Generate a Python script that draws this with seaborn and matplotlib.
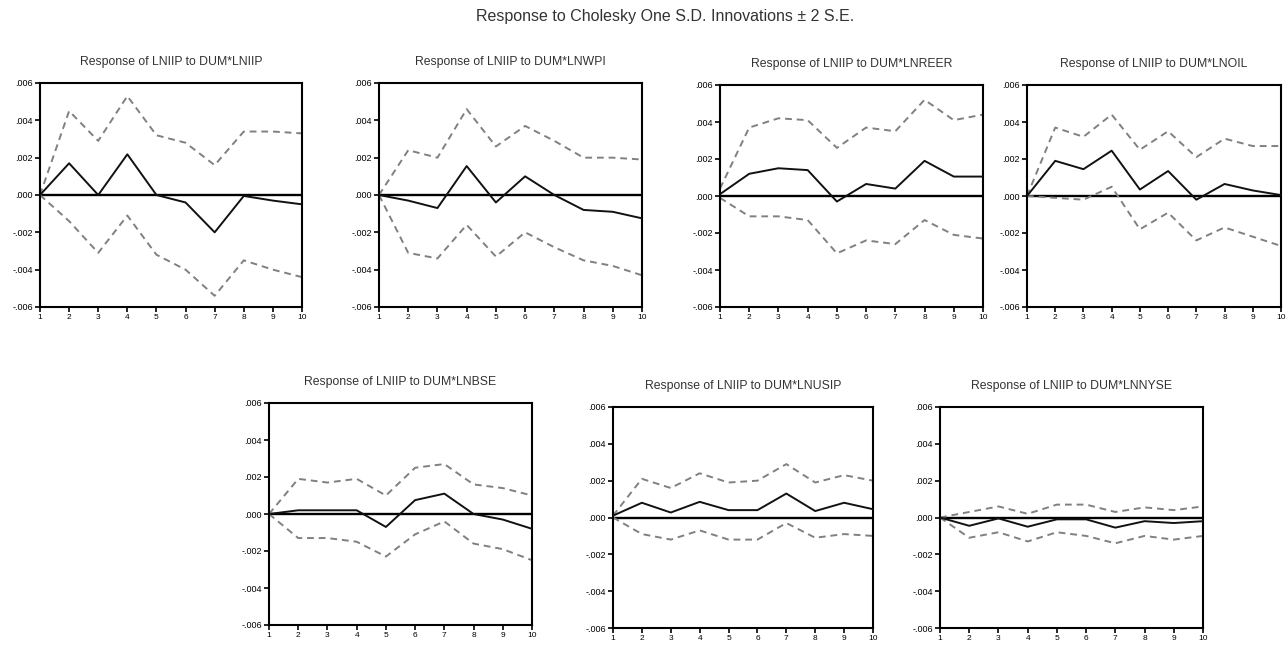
import matplotlib
matplotlib.use("Agg")
import matplotlib.pyplot as plt
from matplotlib.ticker import FuncFormatter
import numpy as np
import pandas as pd
import seaborn as sns

# Impulse-response periods
periods = [1, 2, 3, 4, 5, 6, 7, 8, 9, 10]

# Shock variables (panel order)
shocks = ["DUM*LNIIP", "DUM*LNWPI", "DUM*LNREER", "DUM*LNOIL",
          "DUM*LNBSE", "DUM*LNUSIP", "DUM*LNNYSE"]

# Responses of LNIIP and the +/- 2 S.E. bands for each shock
resp_iip = [0.0, 0.0017, 0.0, 0.00218, 0.0, -0.0004, -0.002, -0.00005, -0.0003, -0.0005]
upper_iip = [0.0, 0.0045, 0.0029, 0.0053, 0.0032, 0.0028, 0.0016, 0.0034, 0.0034, 0.0033]
lower_iip = [0.0, -0.0014, -0.0031, -0.0011, -0.0032, -0.004, -0.0054, -0.0035, -0.004, -0.0044]

resp_wpi = [0.0, -0.0003, -0.0007, 0.00155, -0.0004, 0.001, 0.0, -0.0008, -0.0009, -0.00125]
upper_wpi = [0.0, 0.0024, 0.002, 0.0046, 0.0026, 0.0037, 0.0029, 0.002, 0.002, 0.0019]
lower_wpi = [0.0, -0.0031, -0.0034, -0.0016, -0.0033, -0.002, -0.0028, -0.0035, -0.0038, -0.0043]

resp_reer = [0.0001, 0.0012, 0.0015, 0.0014, -0.0003, 0.00065, 0.0004, 0.0019, 0.00105, 0.00105]
upper_reer = [0.0004, 0.0037, 0.0042, 0.0041, 0.0026, 0.0037, 0.0035, 0.0052, 0.0041, 0.0044]
lower_reer = [-0.0001, -0.0011, -0.0011, -0.0013, -0.0031, -0.0024, -0.0026, -0.0013, -0.0021, -0.0023]

resp_oil = [0.0, 0.0019, 0.00145, 0.00245, 0.00035, 0.00135, -0.0002, 0.00065, 0.0003, 0.00005]
upper_oil = [0.0, 0.0037, 0.0032, 0.0044, 0.0025, 0.0035, 0.0021, 0.0031, 0.0027, 0.0027]
lower_oil = [0.0, -0.0001, -0.0002, 0.0005, -0.0018, -0.0009, -0.0024, -0.0017, -0.0022, -0.0027]

resp_bse = [0.0, 0.0002, 0.0002, 0.0002, -0.0007, 0.00075, 0.0011, 0.0, -0.0003, -0.0008]
upper_bse = [0.0, 0.0019, 0.0017, 0.0019, 0.001, 0.0025, 0.0027, 0.0016, 0.0014, 0.001]
lower_bse = [0.0, -0.0013, -0.0013, -0.0015, -0.0023, -0.0011, -0.0004, -0.0016, -0.0019, -0.0025]

resp_usip = [0.0001, 0.0008, 0.00027, 0.00085, 0.0004, 0.0004, 0.0013, 0.00035, 0.0008, 0.00045]
upper_usip = [0.0001, 0.0021, 0.0016, 0.0024, 0.0019, 0.002, 0.0029, 0.0019, 0.0023, 0.002]
lower_usip = [0.0, -0.0009, -0.0012, -0.0007, -0.0012, -0.0012, -0.0003, -0.0011, -0.0009, -0.001]

resp_nyse = [0.0, -0.00045, -0.00005, -0.0005, -0.0001, -0.0001, -0.00055, -0.0002, -0.0003, -0.0002]
upper_nyse = [0.0, 0.0003, 0.0006, 0.0002, 0.0007, 0.0007, 0.0003, 0.00055, 0.0004, 0.0006]
lower_nyse = [0.0, -0.0011, -0.0008, -0.0013, -0.0008, -0.001, -0.0014, -0.001, -0.0012, -0.001]

responses = [resp_iip, resp_wpi, resp_reer, resp_oil, resp_bse, resp_usip, resp_nyse]
uppers = [upper_iip, upper_wpi, upper_reer, upper_oil, upper_bse, upper_usip, upper_nyse]
lowers = [lower_iip, lower_wpi, lower_reer, lower_oil, lower_bse, lower_usip, lower_nyse]

y_ticks = [-0.006, -0.004, -0.002, 0.0, 0.002, 0.004, 0.006]

sns.set_style("white")
plt.rcParams["font.family"] = ["Liberation Sans", "DejaVu Sans"]

W, H = 1288, 647
fig = plt.figure(figsize=(W / 100, H / 100), dpi=100)

# panel boxes in pixels: left, top, right, bottom
boxes = [
    (40, 83, 302, 307),
    (379, 83, 642, 307),
    (720, 85, 983, 307),
    (1027, 85, 1281, 307),
    (269, 403, 532, 625),
    (613, 407, 873, 628),
    (940, 407, 1203, 628),
]


def tick_fmt(v, _pos):
    s = f"{v:.3f}"
    return s.replace("0.", ".", 1)


for shock, resp, up, lo, (l, t, r, b) in zip(shocks, responses, uppers, lowers, boxes):
    ax = fig.add_axes([l / W, (H - b) / H, (r - l) / W, (b - t) / H])
    df = pd.DataFrame({"period": periods, "resp": resp, "upper": up, "lower": lo})
    ax.axhline(0, color="black", lw=1.7, zorder=1)
    sns.lineplot(data=df, x="period", y="upper", ax=ax, color="#808080",
                 lw=1.4, linestyle=(0, (3.5, 2.5)), zorder=2)
    sns.lineplot(data=df, x="period", y="lower", ax=ax, color="#808080",
                 lw=1.4, linestyle=(0, (3.5, 2.5)), zorder=2)
    sns.lineplot(data=df, x="period", y="resp", ax=ax, color="#111111",
                 lw=1.4, zorder=3)
    ax.set_xlim(1, 10)
    ax.set_ylim(-0.006, 0.006)
    ax.set_xticks(periods)
    ax.set_yticks(y_ticks)
    ax.yaxis.set_major_formatter(FuncFormatter(tick_fmt))
    ax.tick_params(axis="both", direction="out", length=3.5, width=1.2,
                   colors="black", pad=1.5, left=True, bottom=True)
    ax.tick_params(axis="y", labelsize=6.5)
    ax.tick_params(axis="x", labelsize=6)
    ax.set_xlabel("")
    ax.set_ylabel("")
    for sp in ax.spines.values():
        sp.set_color("black")
        sp.set_linewidth(1.5)
    ax.set_title(f"Response of LNIIP to {shock}", fontsize=8.8, pad=13, color="#333333")

fig.text(665 / W, 1 - 17 / H, "Response to Cholesky One S.D. Innovations \u00b1 2 S.E.",
         ha="center", va="center", fontsize=11.5, color="#333333")

fig.savefig("out.png", dpi=100)
